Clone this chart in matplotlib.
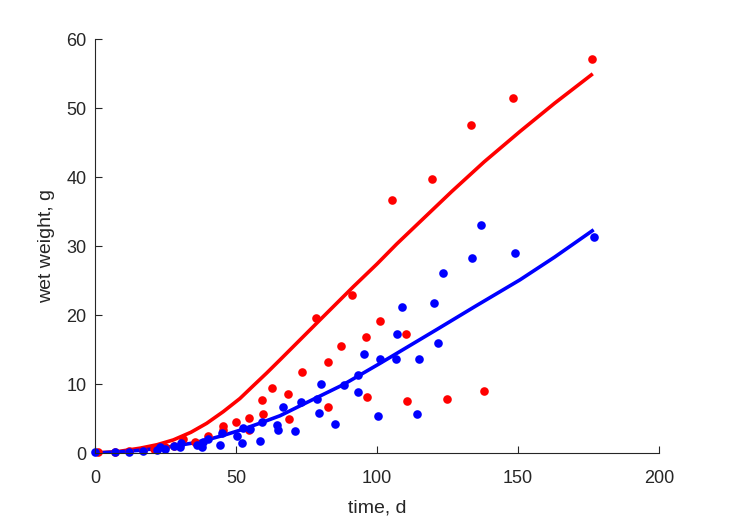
import matplotlib
matplotlib.use("Agg")
import matplotlib.pyplot as plt

# observed data, red set
red_t = [1.2, 7, 12, 17, 21, 25, 28, 31.3, 35.5, 40.2, 45.5, 45.5, 49.9, 54.6, 54.6,
         59.3, 59.7, 62.9, 68.3, 68.9, 73.3, 78.3, 82.7, 82.7, 87.2, 91.2, 96.2, 96.5,
         101.1, 105.4, 110.3, 110.6, 119.5, 124.8, 133.3, 138, 148.2, 176.1]
red_w = [0.1, 0.2, 0.3, 0.4, 0.6, 0.8, 1.0, 2.1, 1.6, 2.5, 3.9, 3.3, 4.5, 5.1, 3.4,
         7.7, 5.6, 9.4, 8.6, 4.9, 11.8, 19.6, 13.2, 6.7, 15.5, 22.9, 16.8, 8.1,
         19.1, 36.7, 17.2, 7.6, 39.7, 7.8, 47.6, 9.0, 51.4, 57.1]

# observed data, blue set
blue_t = [0, 7, 12, 17, 22, 23, 25, 28, 30.1, 30.5, 36, 37.8, 38.4, 40, 44.3, 45,
          50.2, 52, 52.6, 55, 58.5, 59.1, 64.4, 65, 66.8, 70.9, 73, 78.7, 79.5, 80.2,
          85.2, 88.3, 93.3, 93.3, 95.3, 100.5, 101, 106.6, 107, 109, 114.2, 114.8,
          120.3, 121.5, 123.5, 133.8, 136.9, 149, 177]
blue_w = [0.1, 0.2, 0.2, 0.3, 0.5, 0.9, 0.6, 1.0, 0.9, 1.4, 1.2, 0.9, 1.6, 2.0, 1.1, 2.9,
          2.4, 1.5, 3.6, 3.5, 1.7, 4.5, 4.1, 3.4, 6.7, 3.2, 7.4, 7.8, 5.8, 10.0,
          4.2, 9.9, 8.9, 11.3, 14.3, 5.4, 13.6, 13.6, 17.2, 21.2, 5.7, 13.6,
          21.8, 15.9, 26.1, 28.2, 33.0, 29.0, 31.3]

# fitted curves
red_fit_t = [0, 8, 16, 22, 27.8, 34, 39.6, 45.5, 51.4, 56, 60.9, 65.6, 79.8, 91.6,
             100, 107, 118.8, 126.5, 138, 150.7, 163, 176]
red_fit_w = [0, 0.2, 0.7, 1.2, 1.9, 3.0, 4.3, 6.0, 7.9, 9.7, 11.6, 13.5, 19.3, 24.1,
             27.4, 30.3, 34.9, 37.9, 42.2, 46.6, 50.7, 54.8]
blue_fit_t = [0, 8, 16, 22, 28, 34, 39.6, 45.5, 51.4, 58, 65.6, 76, 88, 101.1, 121.2,
              135, 150.7, 163, 176.3]
blue_fit_w = [0, 0.15, 0.4, 0.65, 1.0, 1.4, 1.9, 2.55, 3.3, 4.25, 5.4, 7.5, 9.9, 13.0,
              17.9, 21.3, 25.1, 28.4, 32.2]

plt.rcParams['font.family'] = ['Liberation Sans', 'DejaVu Sans']
txt = '#262626'

fig = plt.figure(figsize=(7.29, 5.21), dpi=100)
ax = fig.add_axes([0.1303, 0.1305, 0.7737, 0.7946])

ax.plot(red_fit_t, red_fit_w, color='#ff0000', lw=2.6)
ax.plot(blue_fit_t, blue_fit_w, color='#0000ff', lw=2.6)
ax.plot(red_t, red_w, 'o', color='#ff0000', ms=6.2, mec='none', clip_on=False)
ax.plot(blue_t, blue_w, 'o', color='#0000ff', ms=6.2, mec='none', clip_on=False)

ax.set_xlim(0, 200)
ax.set_ylim(0, 60)
ax.set_xticks([0, 50, 100, 150, 200])
ax.set_yticks([0, 10, 20, 30, 40, 50, 60])
ax.spines['top'].set_visible(False)
ax.spines['right'].set_visible(False)
for s in ['left', 'bottom']:
    ax.spines[s].set_color(txt)
    ax.spines[s].set_linewidth(0.8)
ax.tick_params(direction='in', length=5, width=0.8, colors=txt, labelsize=13)
ax.tick_params(axis='y', pad=6)
ax.tick_params(axis='x', pad=12)
ax.set_xlabel('time, d', fontsize=14, color=txt, labelpad=9)
ax.set_ylabel('wet weight, g', fontsize=14, color=txt, labelpad=8)

fig.savefig('out.png', dpi=100)
